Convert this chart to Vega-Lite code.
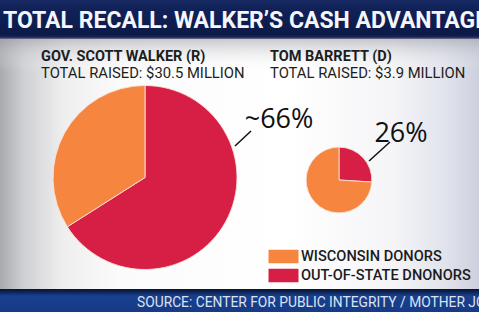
{
  "$schema": "https://vega.github.io/schema/vega-lite/v6.json",
  "description": "Total recall: Walker's cash advantage. Pie area scales with total raised; slices split in-state vs out-of-state donors.",
  "width": 479,
  "height": 312,
  "autosize": {"type": "none"},
  "padding": 0,
  "background": "#ffffff",
  "config": {"view": {"stroke": null}},
  "datasets": {
    "donors": [
      {"candidate": "Scott Walker", "office": "Gov.", "party": "R", "total_raised": 30.5, "source": "Out-of-state", "share": 66, "approx": true},
      {"candidate": "Scott Walker", "office": "Gov.", "party": "R", "total_raised": 30.5, "source": "Wisconsin", "share": 34, "approx": true},
      {"candidate": "Tom Barrett", "office": "", "party": "D", "total_raised": 3.9, "source": "Out-of-state", "share": 26, "approx": false},
      {"candidate": "Tom Barrett", "office": "", "party": "D", "total_raised": 3.9, "source": "Wisconsin", "share": 74, "approx": false}
    ]
  },
  "resolve": {"scale": {"x": "independent", "y": "independent"}},
  "layer": [
    {
      "data": {"values": [{}]},
      "mark": {"type": "rect", "fill": {"gradient": "linear", "x1": 0, "y1": 0, "x2": 1, "y2": 0, "stops": [
        {"offset": 0, "color": "#a9aaaf"},
        {"offset": 0.05, "color": "#cfd0d3"},
        {"offset": 0.13, "color": "#eeeeef"},
        {"offset": 0.25, "color": "#fbfbfb"},
        {"offset": 0.6, "color": "#ffffff"},
        {"offset": 0.82, "color": "#f5f5f8"},
        {"offset": 0.93, "color": "#e1e3ec"},
        {"offset": 1, "color": "#cdd0dc"}]}},
      "encoding": {
        "x": {"datum": 0, "type": "quantitative", "scale": {"domain": [0, 479], "nice": false, "zero": false}, "axis": null},
        "x2": {"datum": 479},
        "y": {"datum": 38, "type": "quantitative", "scale": {"domain": [0, 312], "nice": false, "zero": false, "reverse": true}, "axis": null},
        "y2": {"datum": 290}
      }
    },
    {
      "data": {"values": [{}]},
      "mark": {"type": "rect", "fill": {"gradient": "linear", "x1": 0, "y1": 0, "x2": 0, "y2": 1, "stops": [
        {"offset": 0, "color": "rgba(150,152,162,0.55)"},
        {"offset": 1, "color": "rgba(255,255,255,0)"}]}},
      "encoding": {
        "x": {"datum": 0, "type": "quantitative", "scale": {"domain": [0, 479], "nice": false, "zero": false}, "axis": null},
        "x2": {"datum": 479},
        "y": {"datum": 38, "type": "quantitative", "scale": {"domain": [0, 312], "nice": false, "zero": false, "reverse": true}, "axis": null},
        "y2": {"datum": 72}
      }
    },
    {
      "data": {"values": [{}]},
      "mark": {"type": "rect", "fill": {"gradient": "linear", "x1": 0, "y1": 0, "x2": 0, "y2": 1, "stops": [
        {"offset": 0, "color": "#182a63"},
        {"offset": 0.2, "color": "#112259"},
        {"offset": 0.88, "color": "#0c1a48"},
        {"offset": 0.95, "color": "#1a2650"},
        {"offset": 1, "color": "#6f7590"}]}},
      "encoding": {
        "x": {"datum": 0, "type": "quantitative", "scale": {"domain": [0, 479], "nice": false, "zero": false}, "axis": null},
        "x2": {"datum": 479},
        "y": {"datum": 0, "type": "quantitative", "scale": {"domain": [0, 312], "nice": false, "zero": false, "reverse": true}, "axis": null},
        "y2": {"datum": 39}
      }
    },
    {
      "data": {"values": [{}]},
      "mark": {"type": "rect", "fill": {"gradient": "linear", "x1": 0, "y1": 0, "x2": 0, "y2": 1, "stops": [
        {"offset": 0, "color": "#08142f"},
        {"offset": 0.12, "color": "#0d2253"},
        {"offset": 0.3, "color": "#18408f"},
        {"offset": 1, "color": "#173a85"}]}},
      "encoding": {
        "x": {"datum": 0, "type": "quantitative", "scale": {"domain": [0, 479], "nice": false, "zero": false}, "axis": null},
        "x2": {"datum": 479},
        "y": {"datum": 289, "type": "quantitative", "scale": {"domain": [0, 312], "nice": false, "zero": false, "reverse": true}, "axis": null},
        "y2": {"datum": 312}
      }
    },
    {
      "data": {"values": [{}]},
      "mark": {"type": "text", "text": "TOTAL RECALL: WALKER’S CASH ADVANTAGE", "align": "left", "baseline": "alphabetic", "font": "Roboto", "fontSize": 23, "fontWeight": "bold", "fill": "#f4f6fb"},
      "encoding": {
        "x": {"datum": 3, "type": "quantitative", "scale": {"domain": [0, 479], "nice": false, "zero": false}, "axis": null},
        "y": {"datum": 28, "type": "quantitative", "scale": {"domain": [0, 312], "nice": false, "zero": false, "reverse": true}, "axis": null}
      }
    },
    {
      "data": {"values": [{}]},
      "mark": {"type": "text", "text": "SOURCE: CENTER FOR PUBLIC INTEGRITY / MOTHER JONES", "align": "left", "baseline": "alphabetic", "font": "Roboto", "fontSize": 13.8, "fill": "#dce3f0"},
      "encoding": {
        "x": {"datum": 137, "type": "quantitative", "scale": {"domain": [0, 479], "nice": false, "zero": false}, "axis": null},
        "y": {"datum": 307, "type": "quantitative", "scale": {"domain": [0, 312], "nice": false, "zero": false, "reverse": true}, "axis": null}
      }
    },
    {
      "data": {"name": "donors"},
      "transform": [
        {"filter": "datum.source === 'Wisconsin'"},
        {"calculate": "upper((datum.office ? datum.office + ' ' : '') + datum.candidate) + ' (' + datum.party + ')'", "as": "heading"}
      ],
      "mark": {"type": "text", "align": "left", "baseline": "alphabetic", "font": "Roboto", "fontSize": 14.5, "fontWeight": "bold", "fill": "#1d1d20"},
      "encoding": {
        "x": {"field": "candidate", "type": "nominal", "scale": {"type": "point", "domain": ["Scott Walker", "Tom Barrett"], "range": [41, 270], "padding": 0}, "axis": null},
        "y": {"datum": 60.5, "type": "quantitative", "scale": {"domain": [0, 312], "nice": false, "zero": false, "reverse": true}, "axis": null},
        "text": {"field": "heading"}
      }
    },
    {
      "data": {"name": "donors"},
      "transform": [
        {"filter": "datum.source === 'Wisconsin'"},
        {"calculate": "'TOTAL RAISED: $' + format(datum.total_raised, '.1f') + ' MILLION'", "as": "raised"}
      ],
      "mark": {"type": "text", "align": "left", "baseline": "alphabetic", "font": "Roboto", "fontSize": 14.8, "fill": "#1d1d20"},
      "encoding": {
        "x": {"field": "candidate", "type": "nominal", "scale": {"type": "point", "domain": ["Scott Walker", "Tom Barrett"], "range": [41, 270], "padding": 0}, "axis": null},
        "y": {"datum": 78, "type": "quantitative", "scale": {"domain": [0, 312], "nice": false, "zero": false, "reverse": true}, "axis": null},
        "text": {"field": "raised"}
      }
    },
    {
      "data": {"name": "donors"},
      "transform": [
        {"stack": "share", "groupby": ["candidate"], "sort": [{"field": "source", "order": "ascending"}], "offset": "normalize", "as": ["share_start", "share_end"]}
      ],
      "mark": {"type": "arc", "stroke": "#fbe2d8", "strokeWidth": 0.9},
      "encoding": {
        "x": {"field": "candidate", "type": "nominal", "scale": {"type": "point", "domain": ["Scott Walker", "Tom Barrett"], "range": [145, 339], "padding": 0}, "axis": null},
        "y": {"field": "candidate", "type": "nominal", "scale": {"type": "point", "domain": ["Scott Walker", "Tom Barrett"], "range": [177.5, 180], "padding": 0}, "axis": null},
        "theta": {"field": "share_start", "type": "quantitative", "scale": {"domain": [0, 1]}},
        "theta2": {"field": "share_end"},
        "radius": {"field": "total_raised", "type": "quantitative", "scale": {"type": "sqrt", "zero": true, "domain": [0, 30.5], "range": [0, 92]}},
        "color": {
          "field": "source", "type": "nominal",
          "scale": {"domain": ["Wisconsin", "Out-of-state"], "range": ["#f6853f", "#d71f45"]},
          "legend": {
            "orient": "none", "legendX": 276, "legendY": 249, "padding": 0, "title": null,
            "symbolType": "M-2,-0.9H2V0.9H-2Z", "symbolSize": 225, "symbolStrokeWidth": 0, "symbolOpacity": 1,
            "rowPadding": 3, "labelOffset": 10, "labelFont": "Roboto", "labelFontSize": 14.6, "labelFontWeight": 500,
            "labelColor": "#1b1b1e", "labelLimit": 400,
            "labelExpr": "datum.label === 'Wisconsin' ? 'WISCONSIN DONORS' : 'OUT-OF-STATE DNONORS'"
          }
        },
        "order": {"field": "source", "sort": "ascending"}
      }
    },
    {
      "data": {"values": [{}]},
      "mark": {"type": "rule", "stroke": "#111111", "strokeWidth": 1.5},
      "encoding": {
        "x": {"datum": 235, "type": "quantitative", "scale": {"domain": [0, 479], "nice": false, "zero": false}, "axis": null},
        "x2": {"datum": 251},
        "y": {"datum": 146, "type": "quantitative", "scale": {"domain": [0, 312], "nice": false, "zero": false, "reverse": true}, "axis": null},
        "y2": {"datum": 131}
      }
    },
    {
      "data": {"values": [{}]},
      "mark": {"type": "rule", "stroke": "#111111", "strokeWidth": 1.5},
      "encoding": {
        "x": {"datum": 369, "type": "quantitative", "scale": {"domain": [0, 479], "nice": false, "zero": false}, "axis": null},
        "x2": {"datum": 390},
        "y": {"datum": 161, "type": "quantitative", "scale": {"domain": [0, 312], "nice": false, "zero": false, "reverse": true}, "axis": null},
        "y2": {"datum": 142}
      }
    },
    {
      "data": {"name": "donors"},
      "transform": [
        {"filter": "datum.source === 'Out-of-state'"},
        {"calculate": "(datum.approx ? '~' : '') + datum.share + '%'", "as": "label"}
      ],
      "mark": {"type": "text", "align": "center", "baseline": "alphabetic", "font": "Open Sans", "fontSize": 27, "fontWeight": 500, "fill": "#111111"},
      "encoding": {
        "x": {"field": "candidate", "type": "nominal", "scale": {"type": "point", "domain": ["Scott Walker", "Tom Barrett"], "range": [279, 401], "padding": 0}, "axis": null},
        "y": {"field": "candidate", "type": "nominal", "scale": {"type": "point", "domain": ["Scott Walker", "Tom Barrett"], "range": [128, 142], "padding": 0}, "axis": null},
        "text": {"field": "label"}
      }
    }
  ]
}
